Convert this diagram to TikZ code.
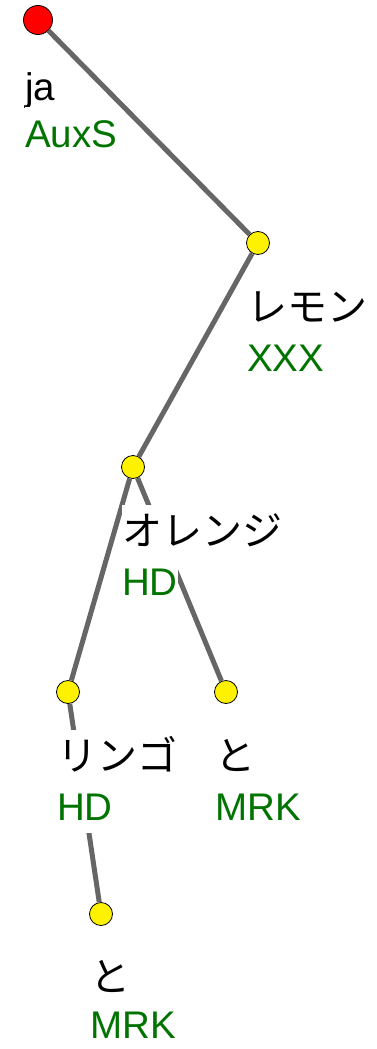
\documentclass[tikz,border=0pt]{standalone}
\usepackage{fontspec}
\setmainfont{Liberation Sans}
\newfontfamily\jpfont{Noto Sans CJK JP}
\usetikzlibrary{calc}
\definecolor{tagGreen}{RGB}{0,115,0}
\definecolor{edgeGray}{RGB}{102,102,102}
\tikzset{
    rootdot/.style={draw, circle, fill=red, minimum size=29pt, inner sep=0pt, line width=0.8pt},
    leafdot/.style={draw, circle, fill=yellow, minimum size=23pt, inner sep=0pt, line width=0.8pt},
    word/.style={anchor=base west, fill=white, inner xsep=0pt, inner ysep=0pt, text height=40pt, text depth=13pt, font=\fontsize{38.5}{40}\selectfont},
    jword/.style={word, font=\jpfont\fontsize{40}{42}\selectfont},
    tag/.style={word, text=tagGreen},
    link/.style={draw=edgeGray, line width=5pt}
}

\begin{document}
\begin{tikzpicture}[x=1pt, y=-1pt]
  \useasboundingbox (0,0) rectangle (377,1049);
  \node(root)[rootdot] at (38,20){};
  \node(lemon)[leafdot] at (258,243){};
  \node(orange)[leafdot] at (133,467){};
  \node(apple)[leafdot] at (68,692){};
  \node(andA)[leafdot] at (226,692){};
  \node(andB)[leafdot] at (101,914){};
  \draw[link](root)--(lemon);
  \draw[link](lemon)--(orange);
  \draw[link](orange)--(apple);
  \draw[link](orange)--(andA);
  \draw[link](apple)--(andB);
  \node(rootW)[word] at ($(root)+(-13,80)$){ja};
  \node(rootT)[tag] at ($(root)+(-13,127)$){AuxS};
  \node(lemonW)[jword] at ($(lemon)+(-11,78)$){レモン};
  \node(lemonT)[tag] at ($(lemon)+(-11,128)$){XXX};
  \node(orangeW)[jword] at ($(orange)+(-11,78)$){オレンジ};
  \node(orangeT)[tag] at ($(orange)+(-11,128)$){HD};
  \node(appleW)[jword] at ($(apple)+(-11,78)$){リンゴ};
  \node(appleT)[tag] at ($(apple)+(-11,128)$){HD};
  \node(andAW)[jword] at ($(andA)+(-11,78)$){と};
  \node(andAT)[tag] at ($(andA)+(-11,128)$){MRK};
  \node(andBW)[jword] at ($(andB)+(-11,77)$){と};
  \node(andBT)[tag, text depth=0pt] at ($(andB)+(-11,124)$){MRK};
\end{tikzpicture}
\end{document}
